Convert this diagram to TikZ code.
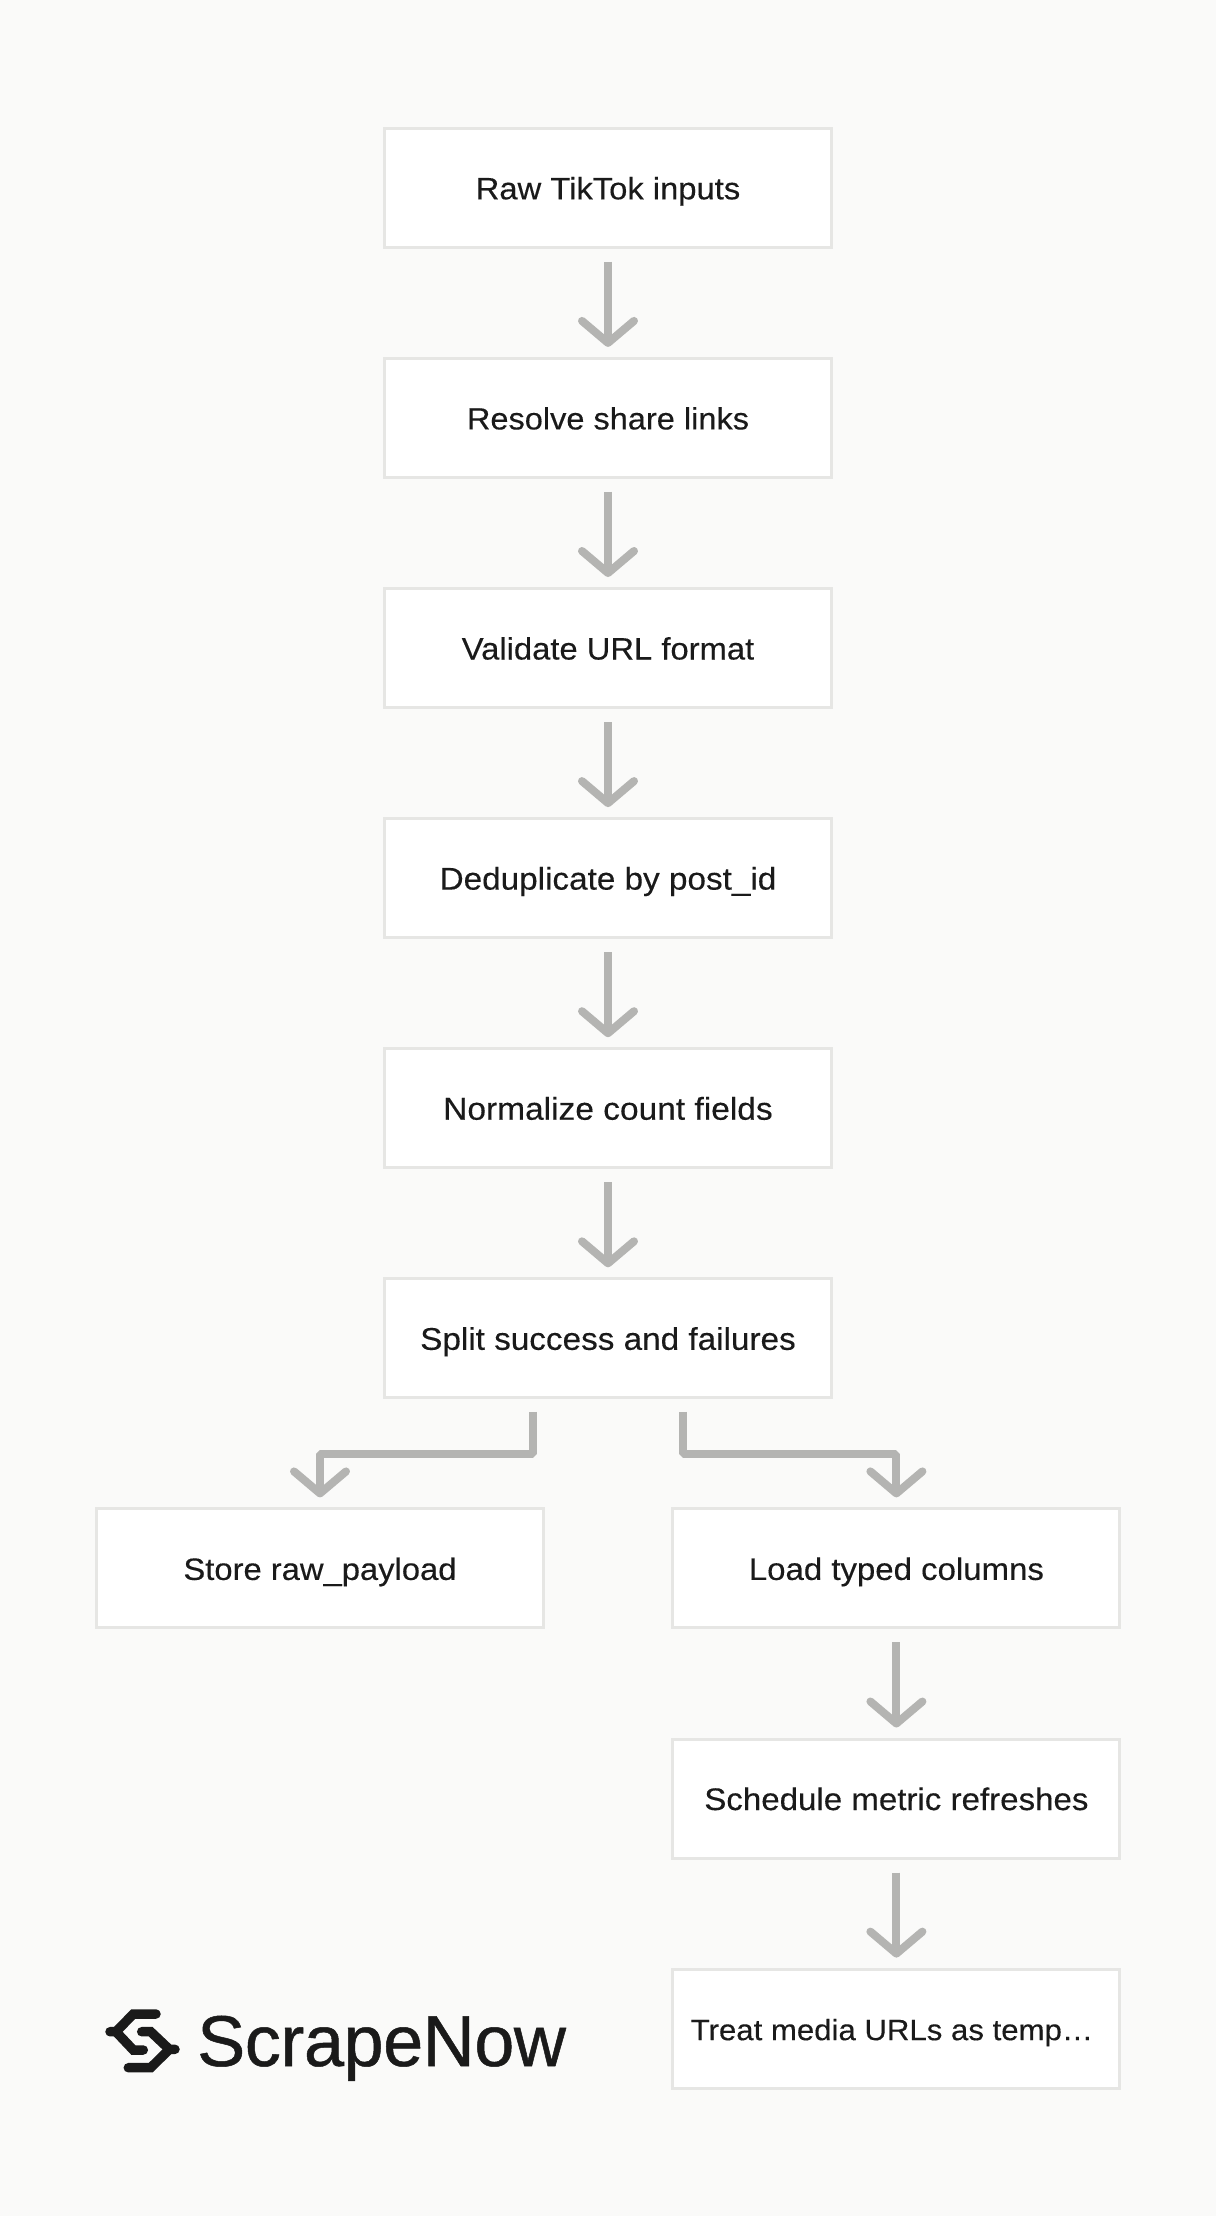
\documentclass[tikz,border=0pt]{standalone}
\usepackage{fontspec}
\setmainfont[FakeStretch=1.06,FakeBold=0.3]{Liberation Sans}
\newfontfamily\logofont[FakeBold=0.7,LetterSpace=-0.6]{Liberation Sans}
\definecolor{bgc}{HTML}{FAFAF9}
\definecolor{edgec}{HTML}{E6E6E4}
\definecolor{arrowc}{HTML}{B4B4B2}
\definecolor{textc}{HTML}{1A1A1A}
\begin{document}
\begin{tikzpicture}[x=1pt,y=-1pt,
 boxn/.style={draw=edgec,line width=3pt,fill=white,minimum width=447pt,minimum height=119pt,inner sep=0pt,text height=23pt,text depth=0pt,text=textc},
 fs/.style={font=\fontsize{#1}{36}\selectfont},
 stem/.style={draw=arrowc,line width=8pt,line cap=butt,line join=bevel},
 head/.style={draw=arrowc,line width=8pt,line cap=round,line join=round},
 logoline/.style={draw=textc,line width=9.5pt,line cap=round,line join=miter}]
\fill[bgc] (0,0) rectangle (1216,2216);
\useasboundingbox (0,0) rectangle (1216,2216);
\node[boxn,fs=30.9] (a) at (608,187.8) {Raw TikTok inputs};
\node[boxn,fs=30.7] (b) at (608,417.9) {Resolve share links};
\node[boxn,fs=30.9] (c) at (608,648) {Validate URL format};
\node[boxn,fs=31.4] (d) at (608,878.1) {Deduplicate by post\_id};
\node[boxn,fs=31.6] (e) at (608,1108.2) {Normalize count fields};
\node[boxn,fs=31.4] (f) at (608,1338.3) {Split success and failures};
\node[boxn,fs=30.9] (g) at (320,1568.4) {Store raw\_payload};
\node[boxn,fs=31.1] (h) at (896.4,1568.4) {Load typed columns};
\node[boxn,fs=31.2] (i) at (896.4,1798.5) {Schedule metric refreshes};
\node[boxn,fs=29.4] (j) at (896.4,2028.6) {Treat media URLs as temp…\hspace*{9pt}};
\foreach \s/\t in {a/b,b/c,c/d,d/e,e/f,h/i,i/j}{
 \draw[stem] ([yshift=-13pt]\s.south) -- ([yshift=14pt]\t.north);
}
\draw[stem] ([xshift=-74.6pt,yshift=-12.5pt]f.south) -- ++(0,41.7) -| ([yshift=14pt]g.north);
\draw[stem] ([xshift=74.8pt,yshift=-12.5pt]f.south) -- ++(0,41.7) -| ([yshift=14pt]h.north);
\foreach \t in {b,c,d,e,f,g,h,i,j}{
 \draw[head] ([xshift=-26pt,yshift=36pt]\t.north) -- ([yshift=14pt]\t.north) -- ([xshift=26pt,yshift=36pt]\t.north);
}
\draw[logoline] (156,2014) -- (133.3,2014) -- (116,2031.7) -- (110,2031.7);
\draw[logoline] (116,2031.7) -- (133.3,2050) -- (143.3,2050);
\draw[logoline] (141.7,2031.7) -- (150.7,2031.7) -- (169.3,2049.3) -- (175,2049.3);
\draw[logoline] (169.3,2049.3) -- (150.7,2067.7) -- (128.3,2067.7);
\node[anchor=base west,inner sep=0pt,text=textc,font=\logofont\fontsize{72}{80}\selectfont] (logo) at (197,2066) {ScrapeNow};
\end{tikzpicture}
\end{document}
